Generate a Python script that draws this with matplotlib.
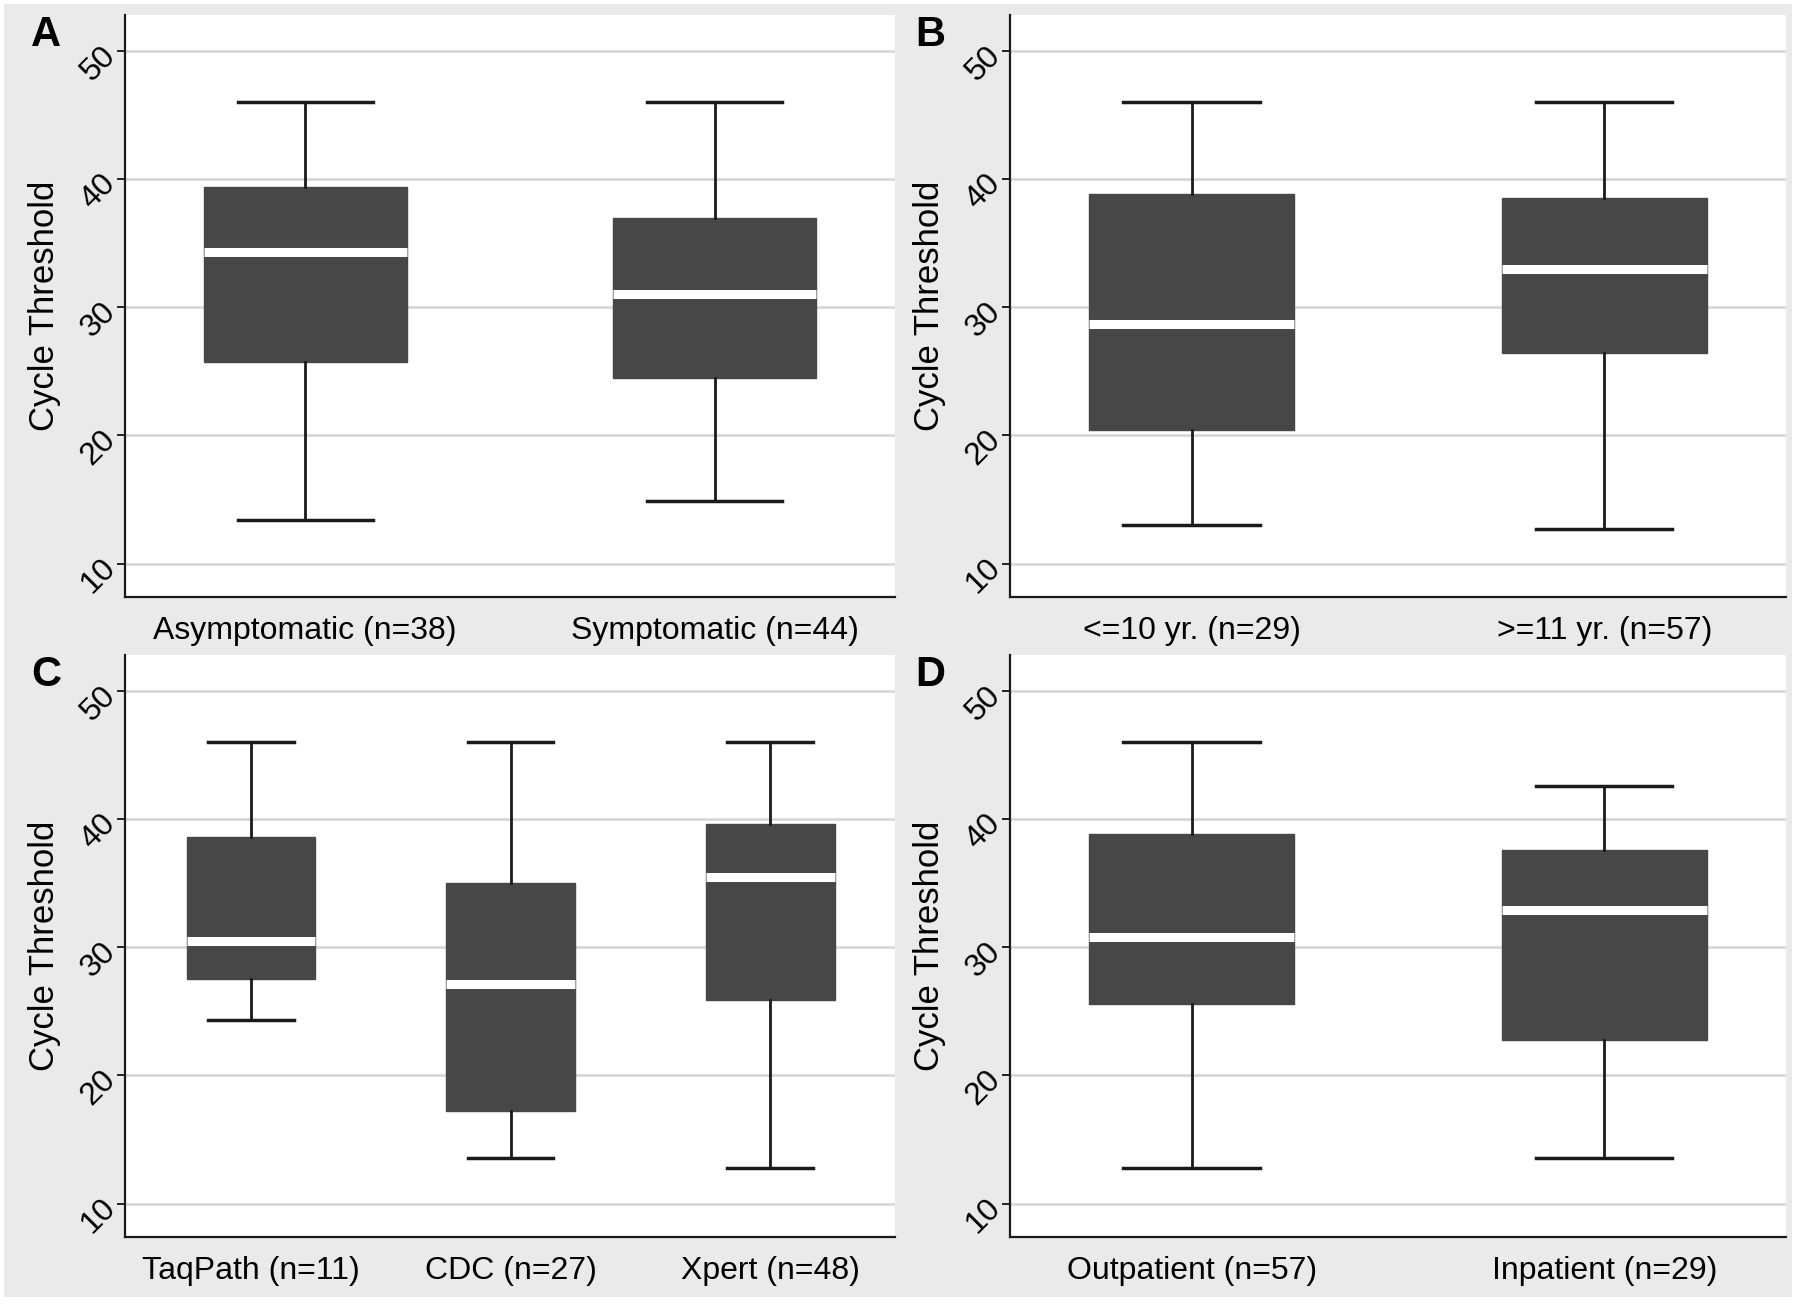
import matplotlib
matplotlib.use("Agg")
import matplotlib.pyplot as plt
from matplotlib.patches import Rectangle

plt.rcParams['font.family'] = ['Liberation Sans', 'DejaVu Sans']

# box summary values (Ct values)
labels_a = ["Asymptomatic (n=38)", "Symptomatic (n=44)"]
lo_a = [13.4, 14.9]
q1_a = [25.7, 24.5]
med_a = [34.3, 31.0]
q3_a = [39.4, 37.0]
hi_a = [46.0, 46.0]

labels_b = ["<=10 yr. (n=29)", ">=11 yr. (n=57)"]
lo_b = [13.0, 12.7]
q1_b = [20.4, 26.4]
med_b = [28.7, 33.0]
q3_b = [38.8, 38.5]
hi_b = [46.0, 46.0]

labels_c = ["TaqPath (n=11)", "CDC (n=27)", "Xpert (n=48)"]
lo_c = [24.3, 13.6, 12.8]
q1_c = [27.5, 17.2, 25.9]
med_c = [30.5, 27.1, 35.5]
q3_c = [38.6, 35.0, 39.6]
hi_c = [46.0, 46.0, 46.0]

labels_d = ["Outpatient (n=57)", "Inpatient (n=29)"]
lo_d = [12.8, 13.6]
q1_d = [25.6, 22.8]
med_d = [30.8, 32.9]
q3_d = [38.8, 37.6]
hi_d = [46.0, 42.6]

yticks = [10, 20, 30, 40, 50]

BOX = '#474747'
BG = '#eaeaea'


def draw_panel(ax, letter, labels, lo, q1, med, q3, hi):
    n = len(labels)
    stats = []
    for i in range(n):
        stats.append(dict(label=labels[i], whislo=lo[i], q1=q1[i], med=med[i],
                          q3=q3[i], whishi=hi[i], fliers=[]))
    pos = list(range(1, n + 1))
    ax.bxp(stats, positions=pos, widths=0.495, capwidths=0.33,
           showfliers=False, patch_artist=True,
           boxprops=dict(facecolor=BOX, edgecolor=BOX, linewidth=1),
           medianprops=dict(color='white', linewidth=6.5, solid_capstyle='butt'),
           whiskerprops=dict(color='#1a1a1a', linewidth=2),
           capprops=dict(color='#1a1a1a', linewidth=2.5))
    ax.set_xlim(0.56 if n == 2 else 0.515, n + (0.44 if n == 2 else 0.48))
    ax.set_ylim(7.4, 52.8)
    ax.set_yticks(yticks)
    ax.set_yticklabels([str(t) for t in yticks], rotation=45,
                       rotation_mode='anchor', ha='right', va='center')
    ax.tick_params(axis='y', length=6, width=1.2, pad=4, labelsize=23)
    ax.tick_params(axis='x', length=0, pad=14, labelsize=23)
    ax.set_ylabel("Cycle Threshold", fontsize=25, labelpad=10)
    ax.grid(axis='y', color='#d8d8d8', linewidth=2)
    ax.set_axisbelow(True)
    ax.set_facecolor('white')
    for s in ['top', 'right']:
        ax.spines[s].set_visible(False)
    for s in ['left', 'bottom']:
        ax.spines[s].set_linewidth(1.6)
        ax.spines[s].set_color('#1a1a1a')
    ax.text(-0.122, 1.0, letter, transform=ax.transAxes, fontsize=30,
            fontweight='bold', ha='left', va='top')


fig = plt.figure(figsize=(18, 13.06), dpi=100)
fig.patch.set_facecolor('white')
fig.patches.append(Rectangle((4 / 1800, 9 / 1306), 1788 / 1800, 1293 / 1306,
                             transform=fig.transFigure, facecolor=BG,
                             edgecolor='none', zorder=-10))

ax_a = fig.add_axes([0.0694, 0.5429, 0.4278, 0.4456])
ax_b = fig.add_axes([0.5611, 0.5429, 0.4311, 0.4456])
ax_c = fig.add_axes([0.0694, 0.0528, 0.4278, 0.4457])
ax_d = fig.add_axes([0.5611, 0.0528, 0.4311, 0.4457])

draw_panel(ax_a, "A", labels_a, lo_a, q1_a, med_a, q3_a, hi_a)
draw_panel(ax_b, "B", labels_b, lo_b, q1_b, med_b, q3_b, hi_b)
draw_panel(ax_c, "C", labels_c, lo_c, q1_c, med_c, q3_c, hi_c)
draw_panel(ax_d, "D", labels_d, lo_d, q1_d, med_d, q3_d, hi_d)

fig.savefig("out.png", dpi=100, facecolor=fig.get_facecolor())
